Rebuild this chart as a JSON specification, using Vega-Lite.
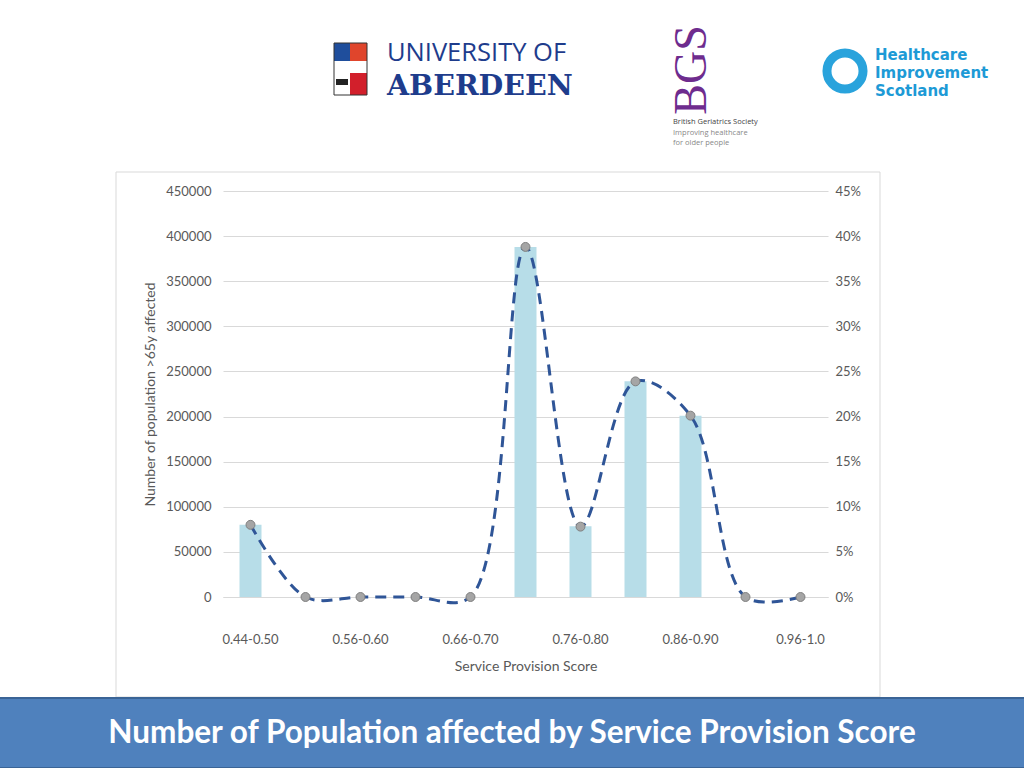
{
  "$schema": "https://vega.github.io/schema/vega-lite/v6.json",
  "width": 605,
  "height": 406,
  "autosize": {"type": "none"},
  "padding": {"left": 223, "top": 191, "right": 196, "bottom": 171},
  "background": "white",
  "config": {"view": {"stroke": null}, "font": "Lato"},
  "data": {
    "values": [
      {"cat": "0.44-0.50", "pop": 80000, "pct": 0.08},
      {"cat": "0.50-0.56", "pop": 0, "pct": 0},
      {"cat": "0.56-0.60", "pop": 0, "pct": 0},
      {"cat": "0.60-0.66", "pop": 0, "pct": 0},
      {"cat": "0.66-0.70", "pop": 0, "pct": 0},
      {"cat": "0.70-0.76", "pop": 388000, "pct": 0.388},
      {"cat": "0.76-0.80", "pop": 78500, "pct": 0.078},
      {"cat": "0.80-0.86", "pop": 239000, "pct": 0.239},
      {"cat": "0.86-0.90", "pop": 201000, "pct": 0.201},
      {"cat": "0.90-0.96", "pop": 0, "pct": 0},
      {"cat": "0.96-1.0", "pop": 0, "pct": 0}
    ]
  },
  "layer": [
    {"data": {"values": [{}]}, "mark": {"type": "rect", "x": -107, "x2": 657, "y": -19, "y2": 506, "fill": "transparent", "stroke": "#D9D9D9", "strokeWidth": 1}, "encoding": {}},
    {"data": {"values": [{}]}, "mark": {"type": "rect", "x": -224, "x2": 802, "y": 507, "y2": 577, "fill": "#4F81BD", "stroke": "#3A6496", "strokeWidth": 2}, "encoding": {}},
    {"data": {"values": [{}]}, "mark": {"type": "text", "x": 289, "y": 543, "text": "Number of Population affected by Service Provision Score", "fontSize": 31.5, "fontWeight": "bold", "color": "white", "align": "center", "baseline": "middle", "font": "Lato"}, "encoding": {}},
    {"data": {"values": [{}]}, "mark": {"type": "rect", "x": 111, "x2": 127, "y": -148, "y2": -130, "fill": "#1F4E9C"}, "encoding": {}},
    {"data": {"values": [{}]}, "mark": {"type": "rect", "x": 127, "x2": 144, "y": -148, "y2": -130, "fill": "#E0452C"}, "encoding": {}},
    {"data": {"values": [{}]}, "mark": {"type": "rect", "x": 127, "x2": 144, "y": -118, "y2": -96, "fill": "#D21F2B"}, "encoding": {}},
    {"data": {"values": [{}]}, "mark": {"type": "rect", "x": 113, "x2": 125, "y": -112, "y2": -106, "fill": "#222222"}, "encoding": {}},
    {"data": {"values": [{}]}, "mark": {"type": "rect", "x": 111, "x2": 144, "y": -148, "y2": -96, "fill": "transparent", "stroke": "#333333", "strokeWidth": 1}, "encoding": {}},
    {"data": {"values": [{}]}, "mark": {"type": "text", "x": 164, "y": -130, "text": "UNIVERSITY OF", "fontSize": 25.5, "color": "#1E3C8C", "align": "left", "baseline": "alphabetic", "font": "Open Sans"}, "encoding": {}},
    {"data": {"values": [{}]}, "mark": {"type": "text", "x": 164, "y": -96, "text": "ABERDEEN", "fontSize": 28.5, "fontWeight": "bold", "color": "#1E3C8C", "align": "left", "baseline": "alphabetic", "font": "DejaVu Serif"}, "encoding": {}},
    {"data": {"values": [{}]}, "mark": {"type": "text", "x": 469, "y": -121, "text": "BGS", "fontSize": 46, "angle": 270, "color": "#6E2C8E", "align": "center", "baseline": "middle", "font": "Liberation Serif"}, "encoding": {}},
    {"data": {"values": [{}]}, "mark": {"type": "text", "x": 450, "y": -73, "text": "British Geriatrics Society", "fontSize": 7.5, "color": "#444444", "align": "left", "baseline": "top", "font": "Open Sans"}, "encoding": {}},
    {"data": {"values": [{}]}, "mark": {"type": "text", "x": 450, "y": -62, "text": "Improving healthcare\nfor older people", "lineBreak": "\n", "lineHeight": 9.5, "fontSize": 7.5, "color": "#888888", "align": "left", "baseline": "top", "font": "Open Sans"}, "encoding": {}},
    {"data": {"values": [{}]}, "mark": {"type": "point", "x": 622, "y": -120, "shape": "circle", "size": 1300, "filled": false, "stroke": "#29A3DC", "strokeWidth": 9, "opacity": 1}, "encoding": {}},
    {"data": {"values": [{}]}, "mark": {"type": "text", "x": 652, "y": -131, "text": "Healthcare\nImprovement\nScotland", "lineBreak": "\n", "lineHeight": 18, "fontSize": 15, "fontWeight": "bold", "color": "#1D9AD6", "align": "left", "baseline": "alphabetic", "font": "DejaVu Sans"}, "encoding": {}},
    {
      "mark": {"type": "bar", "color": "#B7DDE8"},
      "encoding": {
        "x": {
          "field": "cat", "type": "ordinal", "sort": null,
          "scale": {"paddingInner": 0.6, "paddingOuter": 0.3},
          "axis": {
            "values": ["0.44-0.50", "0.56-0.60", "0.66-0.70", "0.76-0.80", "0.86-0.90", "0.96-1.0"],
            "labelAngle": 0, "labelPadding": 36, "ticks": false, "domainColor": "#D9D9D9",
            "labelColor": "#595959", "labelFontSize": 13, "title": "Service Provision Score",
            "titleFontSize": 14, "titleFontWeight": "normal", "titleColor": "#595959", "titlePadding": 13
          }
        },
        "y": {
          "field": "pop", "type": "quantitative",
          "scale": {"domain": [0, 450000], "nice": false},
          "axis": {
            "values": [0, 50000, 100000, 150000, 200000, 250000, 300000, 350000, 400000, 450000],
            "format": "d", "orient": "left", "grid": true, "gridColor": "#D9D9D9", "domain": false, "ticks": false,
            "labelPadding": 12, "labelColor": "#595959", "labelFontSize": 13,
            "title": "Number of population >65y affected", "titleFontSize": 14, "titleFontWeight": "normal",
            "titleColor": "#595959", "titlePadding": 8
          }
        }
      }
    },
    {
      "encoding": {
        "x": {"field": "cat", "type": "ordinal", "sort": null},
        "y": {
          "field": "pct", "type": "quantitative",
          "scale": {"domain": [0, 0.45], "nice": false},
          "axis": {
            "orient": "right", "values": [0, 0.05, 0.1, 0.15, 0.2, 0.25, 0.3, 0.35, 0.4, 0.45],
            "format": ".0%", "grid": false, "domain": false, "ticks": false, "labelPadding": 7,
            "labelColor": "#595959", "labelFontSize": 13, "title": null
          }
        }
      },
      "layer": [
        {"mark": {"type": "line", "color": "#2F5597", "strokeWidth": 3, "strokeDash": [11, 7], "interpolate": "catmull-rom"}},
        {"mark": {"type": "point", "filled": true, "fill": "#A5A5A5", "stroke": "#7F7F7F", "strokeWidth": 1, "size": 80, "opacity": 1}}
      ]
    }
  ],
  "resolve": {"scale": {"y": "independent"}}
}
